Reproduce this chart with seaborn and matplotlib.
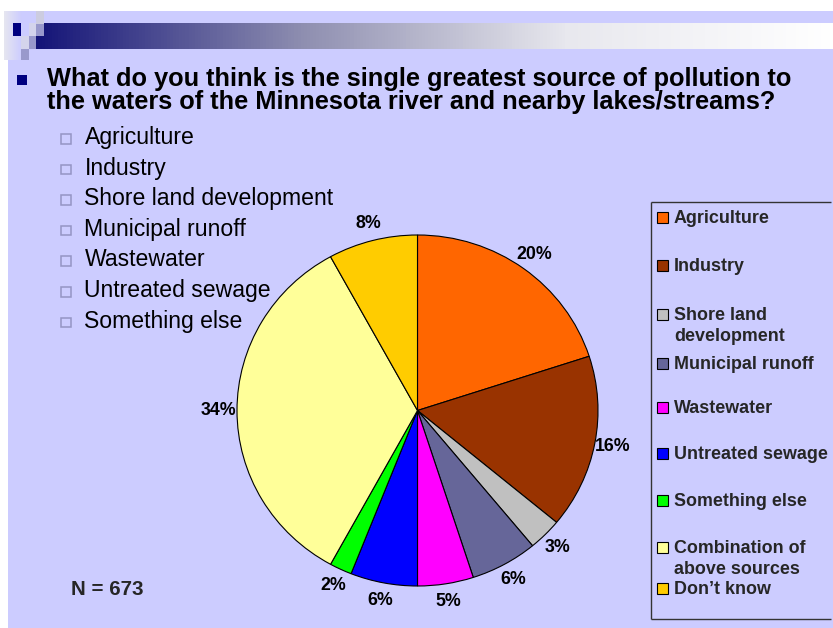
import numpy as np
import matplotlib
matplotlib.use("Agg")
import matplotlib.pyplot as plt
from matplotlib.patches import Rectangle
from matplotlib.colors import LinearSegmentedColormap
import seaborn as sns

# ---------------- data ----------------
categories = ["Agriculture", "Industry", "Shore land\ndevelopment", "Municipal runoff",
              "Wastewater", "Untreated sewage", "Something else",
              "Combination of\nabove sources", "Don\u2019t know"]
percent = [20, 16, 3, 6, 5, 6, 2, 34, 8]
colors = ["#FF6600", "#993300", "#C0C0C0", "#666699", "#FF00FF",
          "#0000FF", "#00FF00", "#FFFF99", "#FFCC00"]
bullets = ["Agriculture", "Industry", "Shore land development", "Municipal runoff",
           "Wastewater", "Untreated sewage", "Something else"]
question = ["What do you think is the single greatest source of pollution to",
            "the waters of the Minnesota river and nearby lakes/streams?"]
n_text = "N = 673"

# ---------------- style ----------------
sns.set_theme(style="white")
plt.rcParams["font.family"] = ["Liberation Sans", "DejaVu Sans"]

W, H = 833, 628
BG = "#CCCCFF"
fig = plt.figure(figsize=(W / 100, H / 100), dpi=100, facecolor="white")

# full-figure pixel axes for slide decoration
bg = fig.add_axes([0, 0, 1, 1])
bg.axis("off")
bg.add_patch(Rectangle((8, 11), W - 8, H - 11, facecolor=BG, edgecolor="none", lw=0))

# left small gradient block
grad_l = LinearSegmentedColormap.from_list("gl", ["#E6E6F0", BG])
bg.imshow(np.linspace(0, 1, 64)[None, :], cmap=grad_l, aspect="auto",
          extent=(4, 22, 60, 11), zorder=1)
# title gradient bar
grad = LinearSegmentedColormap.from_list("g", ["#141478", "#8E8EB0", "#E8E8EE", "#FFFFFF"])
bg.imshow(np.linspace(0, 1, 256)[None, :], cmap=grad, aspect="auto",
          extent=(36, W, 49, 23), zorder=1)
bg.set_xlim(0, W)
bg.set_ylim(H, 0)
# decorative squares
squares = [((13, 23), "#000080"), ((29, 23), "#D4D4EC"), ((36, 23), "#9999CC"),
           ((36, 11), "#CCCCE0"), ((21, 36), "#D4D4EC"), ((29, 36), "#9999CC"),
           ((21, 49), "#9999CC")]
for (sx, sy), c in squares:
    bg.add_patch(Rectangle((sx, sy), 8 if sx != 29 else 7, 13 if sy != 49 else 11,
                           facecolor=c, edgecolor="none", lw=0, zorder=2))

# question bullet + text
bg.add_patch(Rectangle((17.5, 75), 9.5, 9.5, facecolor="#000080", edgecolor="none", lw=0))
for k, line in enumerate(question):
    bg.text(47.5, 85.7 + k * 23.6, line, fontsize=18.3, fontweight="bold", color="black",
            va="baseline", ha="left")

# sub bullets
for i, b in enumerate(bullets):
    base = 144 + i * 30.6
    bg.add_patch(Rectangle((61.5, base - 10), 9.5, 9.5, facecolor="none",
                           edgecolor="#9494C4", lw=1.1))
    bg.text(84.5, base, b, fontsize=16.6, color="black", va="baseline", ha="left")

# N label
bg.text(71, 595, n_text, fontsize=14.8, fontweight="bold", va="baseline", ha="left")

# legend (manual, slide style; box runs off the right edge)
bg.hlines([202, 619], 651, W - 2, colors="#333333", lw=1.0, zorder=3)
bg.vlines([651], 202, 619, colors="#333333", lw=1.0, zorder=3)
legend_y = [218, 266, 315, 364, 408, 454, 501, 548, 589]
for cat, col, ly in zip(categories, colors, legend_y):
    bg.add_patch(Rectangle((657.5, ly - 6), 11, 11, facecolor=col, edgecolor="black",
                           lw=0.8, zorder=4))
    for k, line in enumerate(cat.split("\n")):
        bg.text(674, ly + 5 + k * 21, line, fontsize=12.9, fontweight="bold",
                va="baseline", ha="left", zorder=4)

# ---------------- pie ----------------
cx, cy, rx, ry = 417.5, 410.5, 180.5, 175.5
ax = fig.add_axes([(cx - rx) / W, 1 - (cy + ry) / H, 2 * rx / W, 2 * ry / H])
ax.patch.set_alpha(0)
wedges, texts, autotexts = ax.pie(
    percent, colors=colors, startangle=90, counterclock=False,
    autopct="%1.0f%%", pctdistance=1.1, radius=1,
    wedgeprops=dict(edgecolor="black", linewidth=0.8),
    textprops=dict(fontsize=12.8, fontweight="bold", color="black"))
ax.set_aspect("auto")
ax.set_xlim(-1, 1)
ax.set_ylim(-1, 1)
ax.axis("off")

fig.savefig("out.png", dpi=100, facecolor="white")
